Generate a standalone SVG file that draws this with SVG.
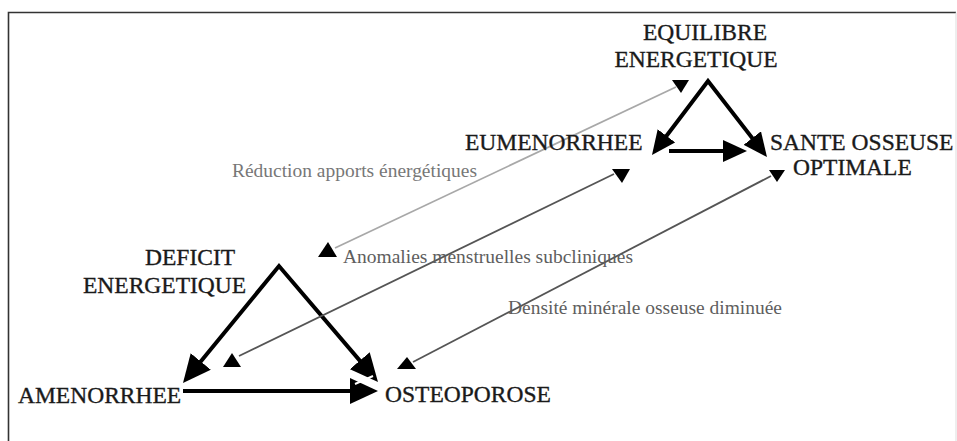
<svg xmlns="http://www.w3.org/2000/svg" width="957" height="441" viewBox="0 0 957 441">
<style>
.lbl{font-family:"Liberation Serif","Times New Roman",serif;font-size:23.5px;fill:#1a1a1a;stroke:#1a1a1a;stroke-width:0.35}
.sub{font-family:"Liberation Serif","Times New Roman",serif;font-size:18.5px;fill:#5e5e5e}
.thick{fill:none;stroke:#000;stroke-width:4;stroke-linejoin:miter;stroke-miterlimit:10}
.thin{fill:none;stroke:#555;stroke-width:1.8}
.light{stroke:#a8a8a8}
.head{fill:#000}
</style>
<defs>
<marker id="bigArrow" markerUnits="userSpaceOnUse" viewBox="0 0 28 26" markerWidth="28" markerHeight="26" refX="22" refY="13" orient="auto-start-reverse">
<path d="M0,0 L28,13 L0,26 z" fill="#000"/>
</marker>
<marker id="smallArrow" markerUnits="userSpaceOnUse" viewBox="0 0 24 22" markerWidth="24" markerHeight="22" refX="18" refY="11" orient="auto-start-reverse">
<path d="M0,0 L24,11 L0,22 z" fill="#000"/>
</marker>
</defs>
<rect width="957" height="441" fill="#fff"/>
<g id="frame">
<path d="M8.5,441 L8.5,12.5 L956,12.5" fill="none" stroke="#333" stroke-width="1.6"/>
<path d="M956,12.5 L956,441" fill="none" stroke="#ddd" stroke-width="1"/>
</g>
<g id="connectors">
<path class="thick" d="M186.8,378.4 L279,266 L374.1,377.4" marker-start="url(#bigArrow)" marker-end="url(#bigArrow)"/>
<path class="thick" d="M183,391 L372,391" marker-end="url(#bigArrow)"/>
<line x1="355" y1="384" x2="373" y2="376" stroke="#fff" stroke-width="2"/>
<path class="thick" d="M655.6,150.2 L708,81 L763.3,152.3" marker-start="url(#smallArrow)" marker-end="url(#smallArrow)"/>
<path class="thick" d="M669,151 L741,151" marker-end="url(#smallArrow)"/>
<line class="thin light" x1="335" y1="248" x2="676" y2="87"/>
<polygon class="head" points="672,80 689,80 681,93"/>
<polygon class="head" points="328,242 337,257 318,257"/>
<line class="thin" x1="239" y1="356" x2="614" y2="174"/>
<polygon class="head" points="612,169 630,169 622,183"/>
<polygon class="head" points="232,353 241,367 223,367"/>
<line class="thin" x1="413" y1="362" x2="771" y2="176"/>
<polygon class="head" points="769,170 785,170 777,182"/>
<polygon class="head" points="407,357 416,369 397,369"/>
</g>
<g id="equilibre">
<text class="lbl" x="705" y="40" text-anchor="middle">EQUILIBRE</text>
<text class="lbl" x="696" y="67" text-anchor="middle">ENERGETIQUE</text>
</g>
<g id="eumenorrhee"><text class="lbl" x="465" y="150">EUMENORRHEE</text></g>
<g id="sante">
<text class="lbl" x="770" y="150">SANTE OSSEUSE</text>
<text class="lbl" x="793" y="175">OPTIMALE</text>
</g>
<g id="deficit">
<text class="lbl" x="145" y="265">DEFICIT</text>
<text class="lbl" x="83" y="293">ENERGETIQUE</text>
</g>
<g id="amenorrhee"><text class="lbl" x="18" y="403">AMENORRHEE</text></g>
<g id="osteoporose"><text class="lbl" x="385" y="402">OSTEOPOROSE</text></g>
<g id="labels">
<text class="sub" x="232" y="177" textLength="245" lengthAdjust="spacingAndGlyphs" style="fill:#777">Réduction apports énergétiques</text>
<text class="sub" x="343" y="263" textLength="290" lengthAdjust="spacingAndGlyphs">Anomalies menstruelles subcliniques</text>
<text class="sub" x="508" y="314" textLength="274" lengthAdjust="spacingAndGlyphs">Densité minérale osseuse diminuée</text>
</g>
</svg>
